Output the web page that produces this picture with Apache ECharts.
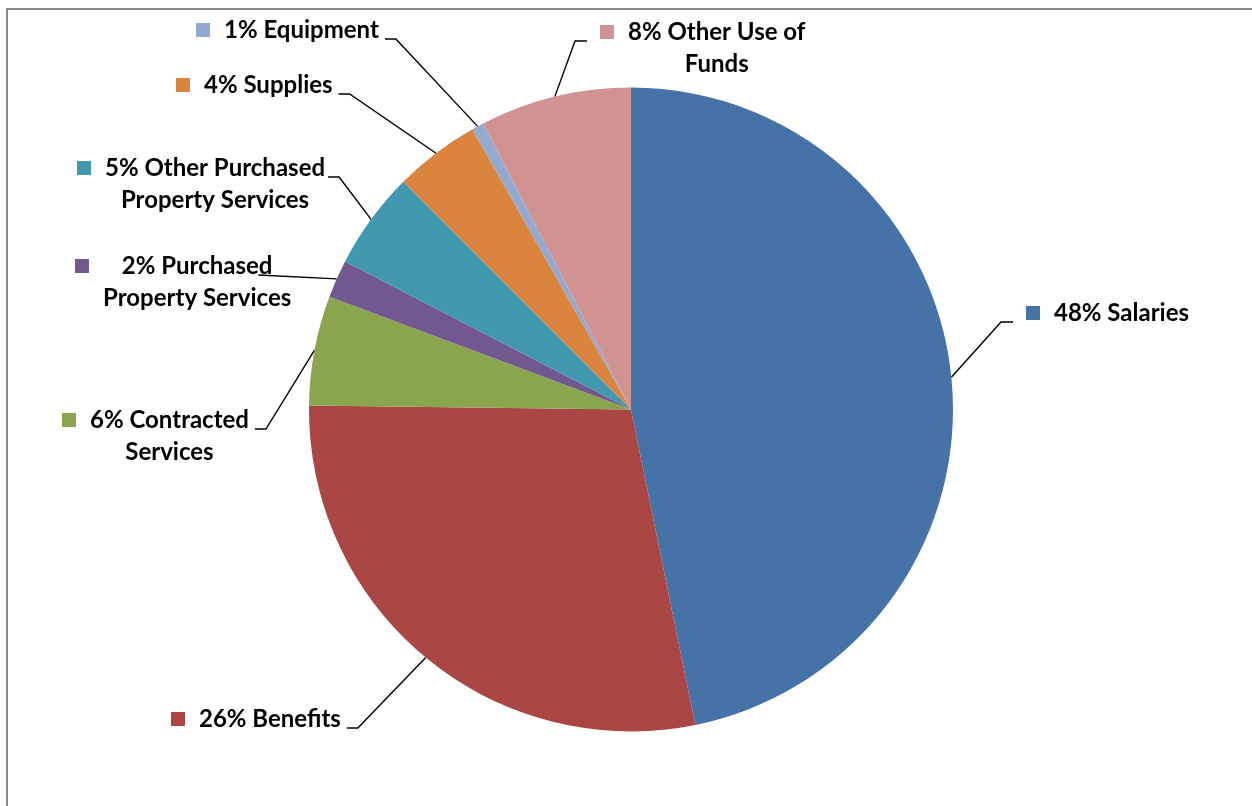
<!DOCTYPE html>
<html>
<head>
<meta charset="utf-8">
<script src="https://cdn.jsdelivr.net/npm/echarts@6/dist/echarts.min.js"></script>
<style>
html, body { margin: 0; padding: 0; background: #fff; }
#frame { position: absolute; left: 6px; top: 8px; width: 1400px; height: 1000px;
  border-left: 2px solid #8a8a8a; border-top: 2px solid #8a8a8a; }
#chart { position: absolute; left: 0; top: 0; width: 1252px; height: 806px; }
</style>
</head>
<body>
<div id="frame"></div>
<div id="chart"></div>
<script>
'use strict';
// data (slice sizes from the drawn angles, printed % from the labels)
var categories = ['Salaries', 'Benefits', 'Contracted Services', 'Purchased Property Services',
  'Other Purchased Property Services', 'Supplies', 'Equipment', 'Other Use of Funds'];
var shares = [46.8, 28.4, 5.5, 1.9, 4.9, 4.3, 0.6, 7.6];
var pctText = ['48%', '26%', '6%', '2%', '5%', '4%', '1%', '8%'];
var labelText = ['Salaries', 'Benefits', 'Contracted\nServices', 'Purchased\nProperty Services',
  'Other Purchased\nProperty Services', 'Supplies', 'Equipment', 'Other Use of\nFunds'];

var palette = ['#4572A7', '#AA4643', '#89A54E', '#71588F', '#4198AF', '#DB843D', '#93A9CF', '#D19392'];

// label spots: x = left of key square, y = middle of first text line
var labelSpots = [
  { x: 1026, y: 313, side: 'right' },
  { x: 171, y: 719, side: 'left' },
  { x: 62, y: 420, side: 'left' },
  { x: 75, y: 266, side: 'left', lead: -33, stub: 0 },
  { x: 77, y: 168, side: 'left', lead: 3 },
  { x: 176, y: 85, side: 'left' },
  { x: 196, y: 30, side: 'left' },
  { x: 600, y: 32, side: 'right' }
];

var FONT = 'Lato';

var rich = {
  gap: { width: 14, height: 14 },
  sp: { width: 28, height: 14 },
  t: { fontFamily: FONT, fontWeight: 'bold', fontSize: 24, lineHeight: 32, color: '#000', align: 'center' }
};
for (var c = 0; c < palette.length; c++) {
  rich['sq' + c] = { width: 14, height: 14, backgroundColor: palette[c] };
}

var pieData = [];
for (var i = 0; i < categories.length; i++) {
  pieData.push({ name: categories[i], value: shares[i] });
}

var myChart = echarts.init(document.getElementById('chart'));
var option = {
  animation: false,
  color: palette,
  series: [
    {
      type: 'pie',
      center: [631, 409.5],
      radius: 322,
      startAngle: 90,
      clockwise: true,
      avoidLabelOverlap: false,
      data: pieData,
      itemStyle: { borderWidth: 0 },
      label: {
        show: true,
        position: 'outside',
        fontFamily: FONT,
        fontWeight: 'bold',
        fontSize: 24,
        lineHeight: 32,
        color: '#000',
        align: 'left',
        formatter: function (p) {
          var idx = p.dataIndex;
          var lines = (pctText[idx] + ' ' + labelText[idx]).split('\n');
          var s = '{sq' + idx + '|}{gap|}{t|' + lines[0] + '}';
          for (var k = 1; k < lines.length; k++) {
            s += '\n{sp|}{t|' + lines[k] + '}';
          }
          return s;
        },
        rich: rich
      },
      labelLine: {
        show: true,
        lineStyle: { color: '#000', width: 1.4 }
      },
      labelLayout: function (p) {
        var spot = labelSpots[p.dataIndex];
        var w = p.labelRect.width;
        var lineY = spot.y + 9;
        var lead = spot.lead != null ? spot.lead : 6;
        var stub = spot.stub != null ? spot.stub : 11;
        var endX, turnX;
        if (spot.side === 'left') {
          endX = spot.x + w + lead;
          turnX = endX + stub;
        } else {
          endX = spot.x - 13;
          turnX = endX - 12;
        }
        var pts = p.labelLinePoints;
        return {
          x: spot.x,
          y: spot.y - 16,
          align: 'left',
          verticalAlign: 'top',
          labelLinePoints: [pts[0], [turnX, lineY], [endX, lineY]]
        };
      }
    }
  ]
};
myChart.setOption(option);
</script>
</body>
</html>
